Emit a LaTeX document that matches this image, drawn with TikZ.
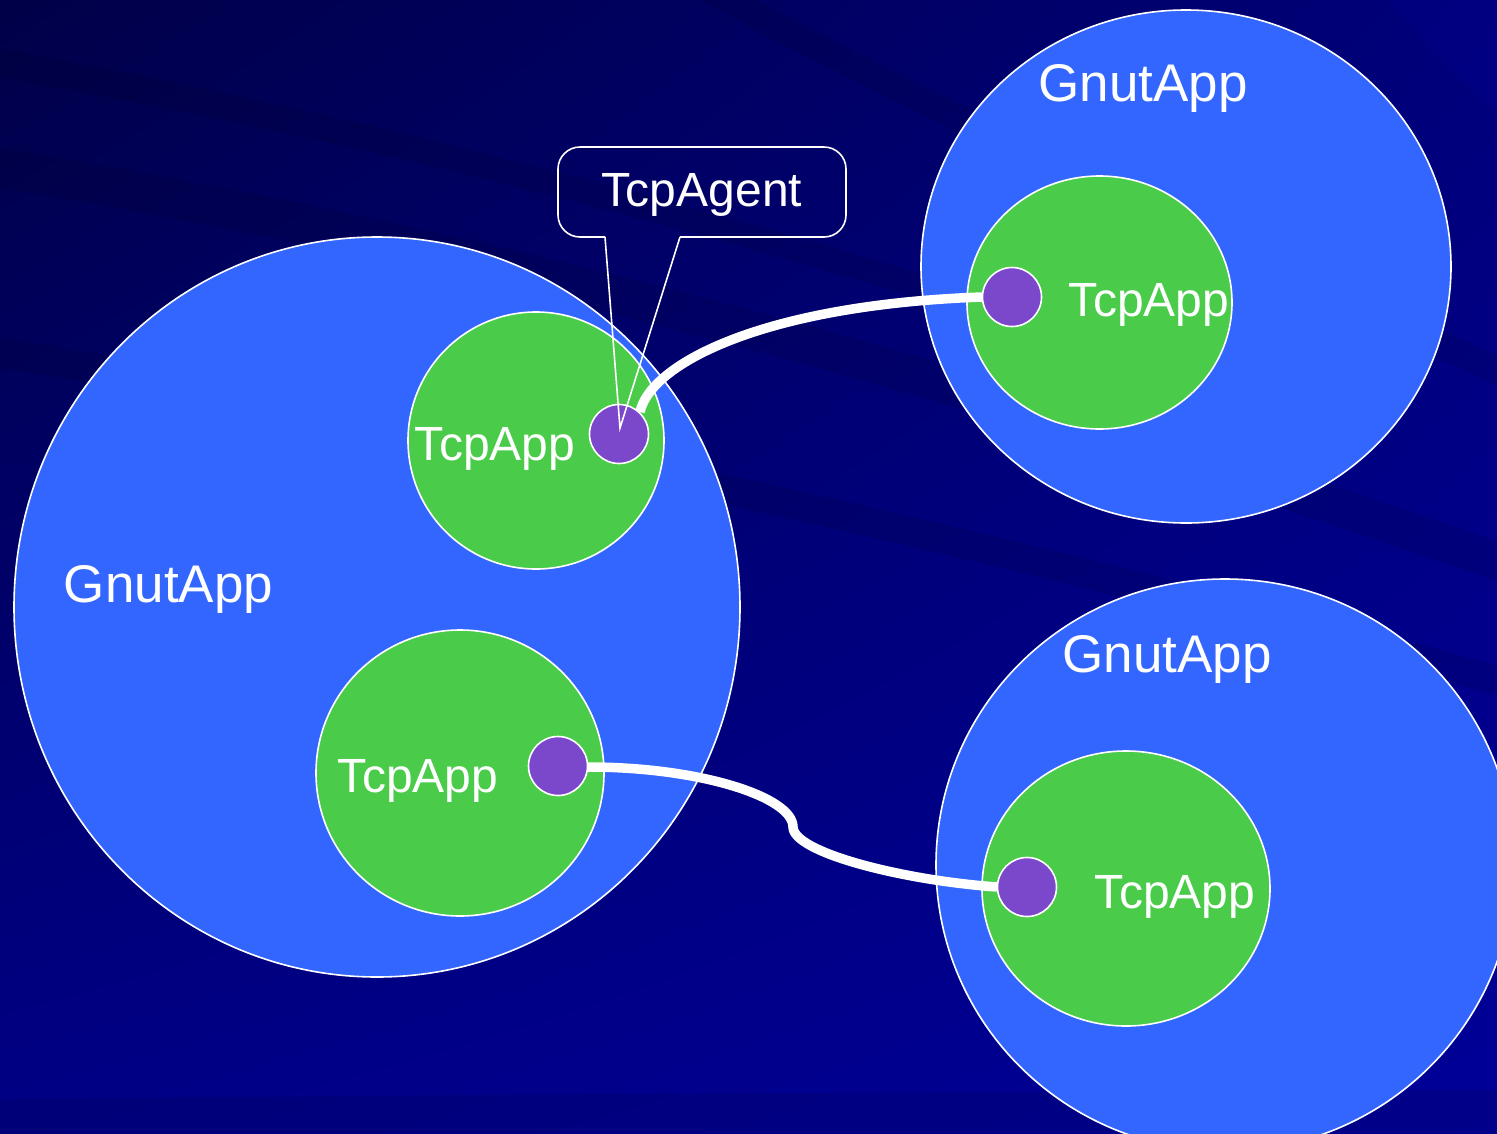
\documentclass[tikz,border=0pt]{standalone}
\usepackage{fontspec}
\setmainfont{Liberation Sans}
\usetikzlibrary{shapes.geometric,calc,shadings}

\definecolor{bgA}{HTML}{000048}
\definecolor{bgB}{HTML}{00007A}
\definecolor{bgC}{HTML}{000086}
\definecolor{bgD}{HTML}{000098}
\definecolor{appblue}{HTML}{3366FF}
\definecolor{tcpgreen}{HTML}{4ACC4A}
\definecolor{agentpurple}{HTML}{7B48CC}

\tikzset{
  gnut/.style={ellipse, draw=white, line width=1.6pt, fill=appblue, inner sep=0pt},
  tcp/.style={ellipse, draw=white, line width=1.6pt, fill=tcpgreen, inner sep=0pt},
  agentdot/.style={circle, draw=white, line width=1.6pt, fill=agentpurple,
                   minimum size=59pt, inner sep=0pt},
  link/.style={draw=white, line width=9.5pt},
  bigtext/.style={text=white, font=\fontsize{53}{60}\selectfont, inner sep=0pt, anchor=base},
  smalltext/.style={text=white, font=\fontsize{48}{56}\selectfont, inner sep=0pt, anchor=base},
  band/.style={fill=black, fill opacity=0.09},
  lightband/.style={fill=blue, fill opacity=0.06}
}

\begin{document}
\begin{tikzpicture}[x=1pt, y=-1pt]
\useasboundingbox (0,0) rectangle (1497,1133);

% backdrop with soft diagonal waves
\shade[upper left=bgA, upper right=bgB, lower left=bgC, lower right=bgD]
  (0,0) rectangle (1497,1133);
\begin{scope}
  \clip (0,0) rectangle (1497,1133);
  \fill[band] (-50,140) .. controls (400,210) and (900,330) .. (1550,560)
     -- (1550,600) .. controls (900,370) and (400,250) .. (-50,180) -- cycle;
  \fill[band] (700,-30) .. controls (900,80) and (1200,220) .. (1550,380)
     -- (1550,410) .. controls (1200,250) and (900,110) .. (700,0) -- cycle;
  \fill[band] (-50,40) .. controls (300,100) and (700,200) .. (1100,330)
     -- (1100,355) .. controls (700,225) and (300,125) .. (-50,70) -- cycle;
  \fill[band] (-50,330) .. controls (400,400) and (900,500) .. (1550,680)
     -- (1550,710) .. controls (900,530) and (400,430) .. (-50,360) -- cycle;
  \fill[band] (-50,1100) .. controls (400,1095) and (800,1092) .. (1550,1090)
     -- (1550,1140) -- (-50,1140) -- cycle;
  \fill[lightband] (1380,-10) .. controls (1420,40) and (1460,80) .. (1550,160)
     -- (1550,-10) -- cycle;
\end{scope}

% applications
\begin{scope}
  \clip (0,0) rectangle (1497,1133);
  \node[gnut, minimum width=726pt, minimum height=740pt] (gnutL)  at (377,607) {};
  \node[gnut, minimum width=530pt, minimum height=513pt] (gnutTR) at (1186,266.5) {};
  \node[gnut, minimum width=578pt, minimum height=572pt] (gnutBR) at (1225,865) {};
\end{scope}

\node[tcp, minimum width=256pt, minimum height=257pt] (tcpLU) at (536,440.5) {};
\node[tcp, minimum width=288pt, minimum height=286pt] (tcpLL) at (460,773) {};
\node[tcp, minimum width=265pt, minimum height=253pt] (tcpTR) at (1099.5,302.5) {};
\node[tcp, minimum width=288pt, minimum height=275pt] (tcpBR) at (1126,888.5) {};

% agent positions
\coordinate (pLU) at (619,434);
\coordinate (pTR) at (1012,297);
\coordinate (pLL) at (558,766);
\coordinate (pBR) at (1027,887);

% connections between agents
\draw[link] ($(pLU)+(21,-22)$) .. controls (650,365) and (760,305) .. ($(pTR)+(-30,0)$);
\draw[link] ($(pLL)+(30,1)$) .. controls (700,767) and (793,797) .. (793,827)
            .. controls (793,852) and (900,880) .. ($(pBR)+(-30,0)$);

\node[agentdot] (dLU) at (pLU) {};
\node[agentdot] (dTR) at (pTR) {};
\node[agentdot] (dLL) at (pLL) {};
\node[agentdot] (dBR) at (pBR) {};

% labels
\node[bigtext] (lblL)  at (168.5,602) {GnutApp};
\node[bigtext] (lblTR) at (1143,101) {GnutApp};
\node[bigtext] (lblBR) at (1167,672) {GnutApp};
\node[smalltext] (lblLU) at (495,460) {TcpApp};
\node[smalltext] (lblLL) at (418,792) {TcpApp};
\node[smalltext] (lblTR2) at (1149,316) {TcpApp};
\node[smalltext] (lblBR2) at (1175,908) {TcpApp};

% callout pointing at the agent
\coordinate (tailL) at (605,237);
\coordinate (tailR) at (680,237);
\coordinate (tip) at (620,428);
\draw[white, line width=1.6pt, rounded corners=22pt]
  (tailL) -- (558,237) -- (558,147) -- (846,147) -- (846,237) -- (tailR);
\draw[white, line width=1.6pt, line join=miter] (tailR) -- (tip) -- (tailL);
\node[smalltext] (agentlabel) at (702,206) {TcpAgent};
\end{tikzpicture}
\end{document}
